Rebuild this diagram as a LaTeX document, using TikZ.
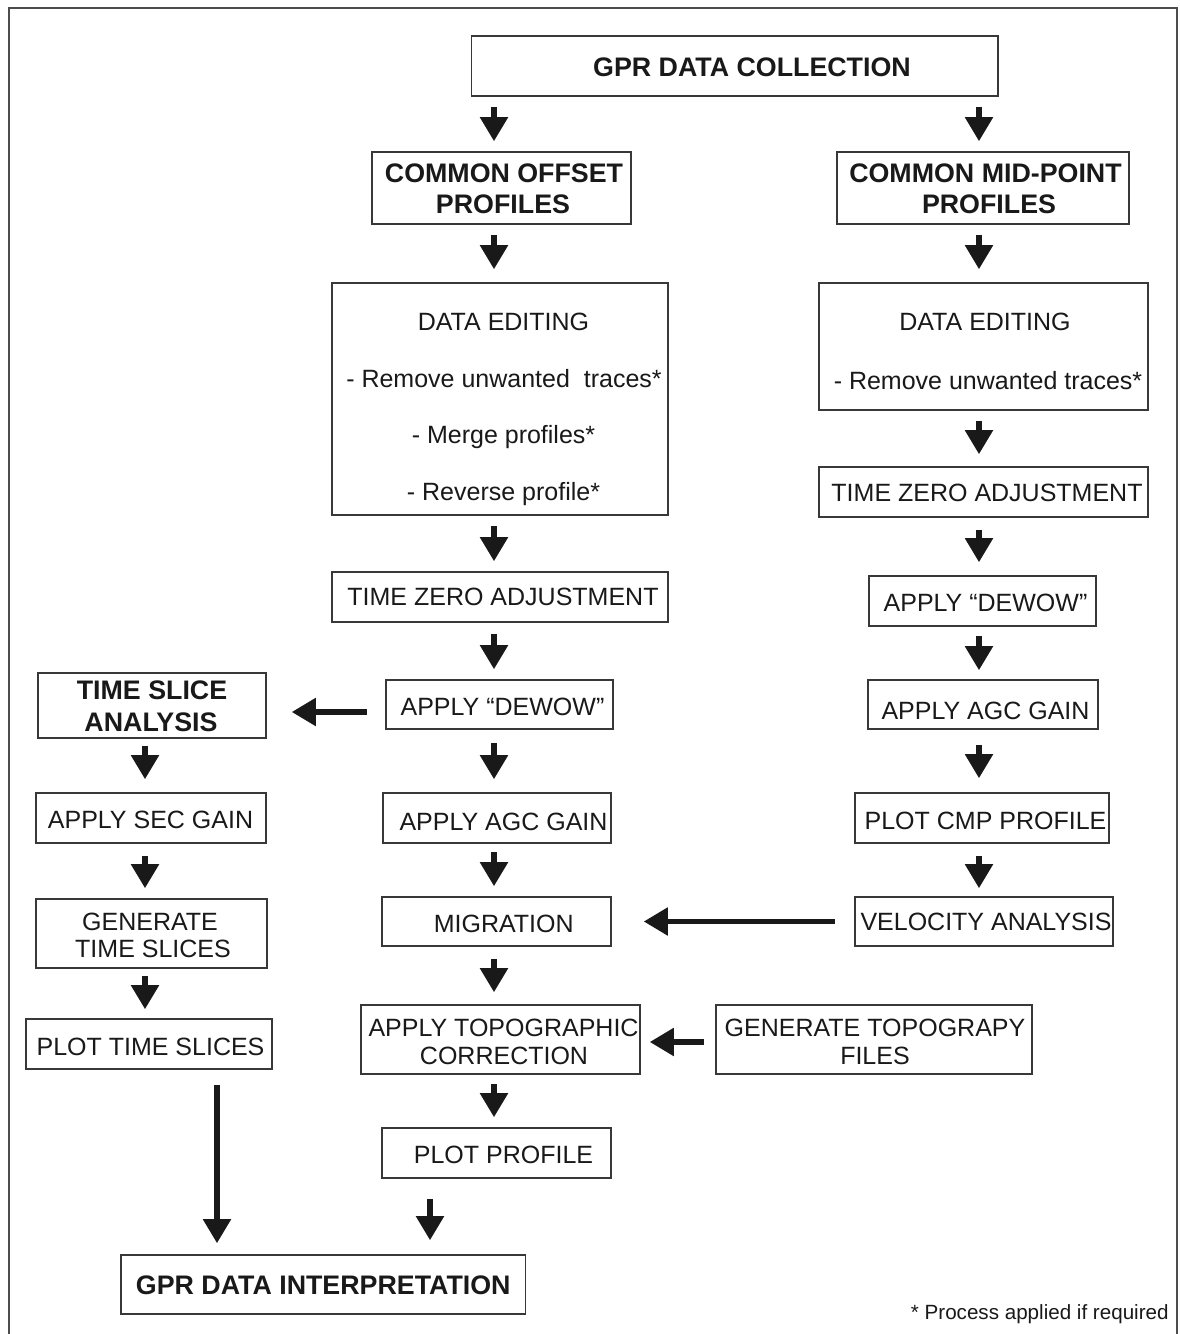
\documentclass[tikz,border=0pt]{standalone}
\usepackage{fontspec}
\setmainfont{Liberation Sans}
\usetikzlibrary{arrows.meta}
\begin{document}
\begin{tikzpicture}[x=0.5pt,y=-0.5pt,
  box/.style={draw=black!78, line width=0.8pt, inner sep=0pt},
  tx/.style={inner sep=0pt, text=black!90, font=\fontsize{12.5}{14}\selectfont, text height=8.9pt, text depth=0pt},
  bf/.style={inner sep=0pt, text=black!90, font=\fontsize{13.4}{15.5}\selectfont\bfseries, text height=9.6pt, text depth=0pt},
  note/.style={inner sep=0pt, text=black!90, font=\fontsize{10.3}{12}\selectfont, text height=7.4pt, text depth=0pt},
  arr/.style={draw=black!90, line width=2.6pt, -{Triangle[width=13.5pt,length=12pt]}},
  gap/.style 2 args={shorten <=#1pt, shorten >=#2pt},
  frame/.style={draw=black!70, line width=1pt}
]
\useasboundingbox (0,0) rectangle (1179,1334);
\fill[white] (0,0) rectangle (1179,1334);
\draw[frame] (9,1334) -- (9,8) -- (1177,8) -- (1177,1334);

% arrow columns
\coordinate (xL) at (494,0);
\coordinate (xR) at (979,0);
\coordinate (xT) at (145,0);
\coordinate (xS) at (217,0);
\coordinate (xP) at (430,0);

% top
\node[box, minimum width=263.25pt, minimum height=30pt,
  label={[bf,xshift=8.6pt,yshift=-0.6pt]center:GPR DATA COLLECTION}] (col) at (734.75,66) {};
\node[box, minimum width=129.5pt, minimum height=36pt,
  label={[bf,xshift=1.25pt,yshift=7.5pt]center:COMMON OFFSET},
  label={[bf,xshift=0.75pt,yshift=-8pt]center:PROFILES}] (co) at (501.5,188) {};
\node[box, minimum width=146pt, minimum height=36pt,
  label={[bf,xshift=1.25pt,yshift=7.5pt]center:COMMON MID-POINT},
  label={[bf,xshift=3pt,yshift=-8pt]center:PROFILES}] (cmp) at (983,188) {};

% common offset branch
\node[box, minimum width=168pt, minimum height=116pt,
  label={[tx,xshift=1.75pt,yshift=38.65pt]center:DATA EDITING},
  label={[tx,xshift=2pt,yshift=10.15pt]center:- Remove unwanted\ \ traces*},
  label={[tx,xshift=1.75pt,yshift=-18pt]center:- Merge profiles*},
  label={[tx,xshift=1.75pt,yshift=-46.35pt]center:- Reverse profile*}] (del) at (500,399) {};
\node[box, minimum width=168pt, minimum height=25pt,
  label={[tx,xshift=1.5pt]center:TIME ZERO ADJUSTMENT}] (tzl) at (500,597) {};
\node[box, minimum width=113.5pt, minimum height=24.5pt,
  label={[tx,xshift=1.5pt,yshift=-1.25pt]center:APPLY “DEWOW”}] (dwl) at (499.5,704.5) {};
\node[box, minimum width=114pt, minimum height=25pt,
  label={[tx,xshift=3.25pt,yshift=-1.75pt]center:APPLY AGC GAIN}] (agcl) at (497,818) {};
\node[box, minimum width=114.5pt, minimum height=24.5pt,
  label={[tx,xshift=3.6pt,yshift=-1.25pt]center:MIGRATION}] (mig) at (496.5,921.5) {};
\node[box, minimum width=139.5pt, minimum height=34.5pt,
  label={[tx,xshift=1.5pt,yshift=5.75pt]center:APPLY TOPOGRAPHIC},
  label={[tx,xshift=1.75pt,yshift=-8.25pt]center:CORRECTION}] (topo) at (500.5,1039.5) {};
\node[box, minimum width=114.5pt, minimum height=25pt,
  label={[tx,xshift=3.5pt,yshift=-1pt]center:PLOT PROFILE}] (pp) at (496.5,1153) {};

% common mid-point branch
\node[box, minimum width=164.5pt, minimum height=63.5pt,
  label={[tx,xshift=0.75pt,yshift=12.5pt]center:DATA EDITING},
  label={[tx,xshift=2.25pt,yshift=-16.9pt]center:- Remove unwanted traces*}] (der) at (983.5,346.5) {};
\node[box, minimum width=164.5pt, minimum height=25pt,
  label={[tx,xshift=1.75pt,yshift=-0.5pt]center:TIME ZERO ADJUSTMENT}] (tzr) at (983.5,492) {};
\node[box, minimum width=113.5pt, minimum height=25pt,
  label={[tx,xshift=1.5pt,yshift=-1pt]center:APPLY “DEWOW”}] (dwr) at (982.5,601) {};
\node[box, minimum width=115pt, minimum height=24.5pt,
  label={[tx,xshift=1.25pt,yshift=-3pt]center:APPLY AGC GAIN}] (agcr) at (983,704.5) {};
\node[box, minimum width=127pt, minimum height=25pt,
  label={[tx,xshift=1.75pt,yshift=-1.5pt]center:PLOT CMP PROFILE}] (pcmp) at (982,818) {};
\node[box, minimum width=129pt, minimum height=24.5pt,
  label={[tx,xshift=1pt]center:VELOCITY ANALYSIS}] (vel) at (984,921.5) {};
\node[box, minimum width=158pt, minimum height=34.5pt,
  label={[tx,xshift=0.5pt,yshift=5.75pt]center:GENERATE TOPOGRAPY},
  label={[tx,xshift=0.5pt,yshift=-8.25pt]center:FILES}] (gtopo) at (874,1039.5) {};

% time slice branch
\node[box, minimum width=114pt, minimum height=32.5pt,
  label={[bf,yshift=7.75pt]center:TIME SLICE},
  label={[bf,xshift=-0.5pt,yshift=-8.25pt]center:ANALYSIS}] (ts) at (152,705.5) {};
\node[box, minimum width=115pt, minimum height=25pt,
  label={[tx,xshift=-0.25pt,yshift=-1pt]center:APPLY SEC GAIN}] (sec) at (151,818) {};
\node[box, minimum width=115.5pt, minimum height=34.5pt,
  label={[tx,xshift=-0.75pt,yshift=6pt]center:GENERATE},
  label={[tx,xshift=0.75pt,yshift=-7.75pt]center:TIME SLICES}] (gen) at (151.5,933.5) {};
\node[box, minimum width=123pt, minimum height=25pt,
  label={[tx,xshift=0.75pt,yshift=-1.5pt]center:PLOT TIME SLICES}] (pts) at (149,1044) {};

% end
\node[box, minimum width=202.25pt, minimum height=29.5pt,
  label={[bf,yshift=-0.25pt]center:GPR DATA INTERPRETATION}] (int) at (323.25,1284.5) {};
\node[note, anchor=east] (fn) at (1169,1312) {* Process applied if required};

% connectors
\draw[arr, gap={5}{5}] (col.south -| xL) -- (co.north -| xL);
\draw[arr, gap={5}{5}] (col.south -| xR) -- (cmp.north -| xR);
\draw[arr, gap={5}{6.5}] (co.south -| xL) -- (del.north -| xL);
\draw[arr, gap={5}{6.5}] (cmp.south -| xR) -- (der.north -| xR);
\draw[arr, gap={5}{5}] (del.south -| xL) -- (tzl.north -| xL);
\draw[arr, gap={5}{6}] (der.south -| xR) -- (tzr.north -| xR);
\draw[arr, gap={5.5}{5}] (tzl.south -| xL) -- (dwl.north -| xL);
\draw[arr, gap={6}{6.5}] (tzr.south -| xR) -- (dwr.north -| xR);
\draw[arr, gap={6.5}{6.5}] (dwl.south -| xL) -- (agcl.north -| xL);
\draw[arr, gap={4.5}{4.5}] (dwr.south -| xR) -- (agcr.north -| xR);
\draw[arr, gap={4}{5}] (agcl.south -| xL) -- (mig.north -| xL);
\draw[arr, gap={7.5}{7}] (agcr.south -| xR) -- (pcmp.north -| xR);
\draw[arr, gap={6}{6}] (mig.south -| xL) -- (topo.north -| xL);
\draw[arr, gap={6}{4}] (pcmp.south -| xR) -- (vel.north -| xR);
\draw[arr, gap={4.5}{5}] (topo.south -| xL) -- (pp.north -| xL);
\draw[arr, gap={10}{7}] (pp.south -| xP) -- (int.north -| xP);
\draw[arr, gap={3.5}{6.5}] (ts.south -| xT) -- (sec.north -| xT);
\draw[arr, gap={6}{5}] (sec.south -| xT) -- (gen.north -| xT);
\draw[arr, gap={3.5}{4.5}] (gen.south -| xT) -- (pts.north -| xT);
\draw[arr, gap={7.5}{5.5}] (pts.south -| xS) -- (int.north -| xS);
\draw[arr, gap={9}{12.5}] ([yshift=-3.75pt]dwl.west) -- ([yshift=-3.75pt]ts.east |- dwl.west);
\draw[arr, gap={9.5}{16}] (vel.west) -- (mig.east |- vel.west);
\draw[arr, gap={5.5}{4.5}] ([yshift=-1.25pt]gtopo.west) -- ([yshift=-1.25pt]topo.east |- gtopo.west);
\end{tikzpicture}
\end{document}
